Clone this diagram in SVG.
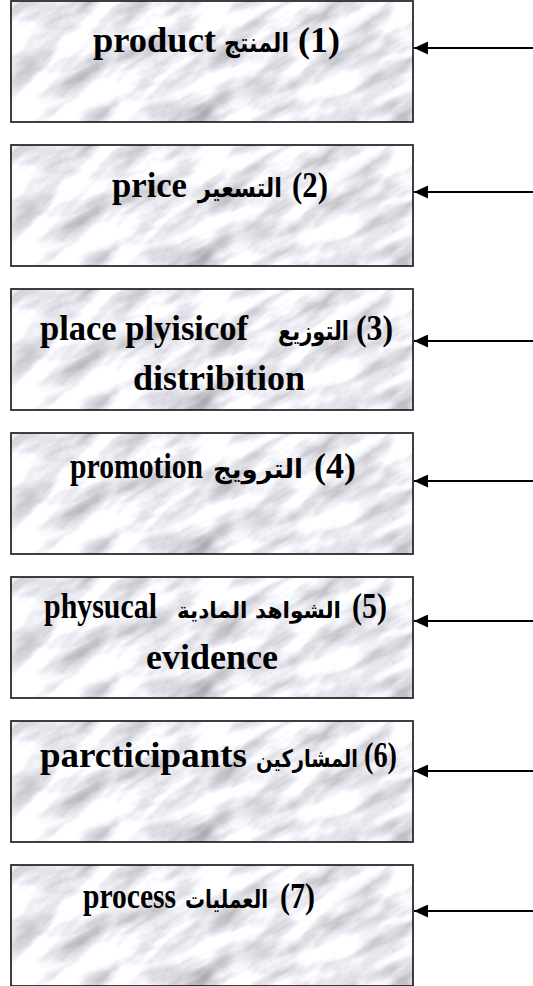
<svg xmlns="http://www.w3.org/2000/svg" width="533" height="986" viewBox="0 0 533 986">
<style>
.frame{fill:none;stroke:#111;stroke-width:1.6}
.en{font-family:"Liberation Serif","Times New Roman",serif;font-weight:bold;font-size:36px;fill:#000}
.ar{font-family:"DejaVu Sans","Noto Sans",sans-serif;font-weight:bold;font-size:26px;fill:#000}
.conn{stroke:#000;stroke-width:2;fill:none}
</style>
<defs>
<filter id="marble" x="-10%" y="-10%" width="120%" height="120%" color-interpolation-filters="sRGB">
<feTurbulence type="fractalNoise" baseFrequency="0.016 0.045" numOctaves="5" seed="11" result="n"/>
<feColorMatrix in="n" type="matrix" values="0.62 0 0 0 0.62  0.62 0 0 0 0.62  0.62 0 0 0 0.645  0 0 0 0 1"/>
</filter>
<clipPath id="bc"><rect x="0" y="0" width="402" height="121"/></clipPath>
<g id="bg">
<g clip-path="url(#bc)">
<rect x="-200" y="-300" width="800" height="700" fill="#eee" filter="url(#marble)" transform="rotate(-30 201 60)"/>
</g>
<rect class="frame" x="0" y="0" width="402" height="121"/>
</g>
<marker id="ah" viewBox="0 0 14 13" refX="14" refY="6.5" markerWidth="14" markerHeight="13" markerUnits="userSpaceOnUse" orient="auto">
<path d="M0,0 L14,6.5 L0,13 z" fill="#000"/>
</marker>
</defs>

<g id="node1">
<use href="#bg" x="11" y="1"/>
<text class="en" x="298" y="52" textLength="42" lengthAdjust="spacingAndGlyphs">(1)</text>
<text class="ar" x="224" y="52" textLength="65" lengthAdjust="spacingAndGlyphs">المنتج</text>
<text class="en" x="93" y="52" textLength="123" lengthAdjust="spacingAndGlyphs">product</text>
</g>
<g id="node2">
<use href="#bg" x="11" y="145"/>
<text class="en" x="292" y="197" textLength="36" lengthAdjust="spacingAndGlyphs">(2)</text>
<text class="ar" x="198" y="197" textLength="84" lengthAdjust="spacingAndGlyphs">التسعير</text>
<text class="en" x="112" y="197" textLength="75" lengthAdjust="spacingAndGlyphs">price</text>
</g>
<g id="node3">
<use href="#bg" x="11" y="289"/>
<text class="en" x="356" y="340" textLength="37" lengthAdjust="spacingAndGlyphs">(3)</text>
<text class="ar" x="278" y="340" textLength="71" lengthAdjust="spacingAndGlyphs">التوزيع</text>
<text class="en" x="40" y="340" textLength="208" lengthAdjust="spacingAndGlyphs">place plyisicof</text>
<text class="en" x="219" y="390" text-anchor="middle">distribition</text>
</g>
<g id="node4">
<use href="#bg" x="11" y="433"/>
<text class="en" x="314" y="478" textLength="42" lengthAdjust="spacingAndGlyphs">(4)</text>
<text class="ar" x="213" y="478" textLength="90" lengthAdjust="spacingAndGlyphs">الترويج</text>
<text class="en" x="70" y="478" textLength="133" lengthAdjust="spacingAndGlyphs">promotion</text>
</g>
<g id="node5">
<use href="#bg" x="11" y="577"/>
<text class="en" x="352" y="618" textLength="35" lengthAdjust="spacingAndGlyphs">(5)</text>
<text class="ar" x="177" y="618" textLength="164" lengthAdjust="spacingAndGlyphs" style="font-size:22px">الشواهد المادية</text>
<text class="en" x="44" y="618" textLength="113" lengthAdjust="spacingAndGlyphs">physucal</text>
<text class="en" x="212" y="669" text-anchor="middle">evidence</text>
</g>
<g id="node6">
<use href="#bg" x="11" y="721"/>
<text class="en" x="364" y="767" textLength="33" lengthAdjust="spacingAndGlyphs">(6)</text>
<text class="ar" x="256" y="767" textLength="102" lengthAdjust="spacingAndGlyphs" style="font-size:24px">المشاركين</text>
<text class="en" x="40" y="767" textLength="207" lengthAdjust="spacingAndGlyphs">parcticipants</text>
</g>
<g id="node7">
<use href="#bg" x="11" y="865"/>
<text class="en" x="280" y="908" textLength="35" lengthAdjust="spacingAndGlyphs">(7)</text>
<text class="ar" x="185" y="908" textLength="83" lengthAdjust="spacingAndGlyphs" style="font-size:25px">العمليات</text>
<text class="en" x="83" y="908" textLength="93" lengthAdjust="spacingAndGlyphs">process</text>
</g>

<g id="connectors">
<line class="conn" x1="533" y1="48" x2="414" y2="48" marker-end="url(#ah)"/>
<line class="conn" x1="533" y1="192" x2="414" y2="192" marker-end="url(#ah)"/>
<line class="conn" x1="533" y1="341" x2="414" y2="341" marker-end="url(#ah)"/>
<line class="conn" x1="533" y1="481" x2="414" y2="481" marker-end="url(#ah)"/>
<line class="conn" x1="533" y1="621" x2="414" y2="621" marker-end="url(#ah)"/>
<line class="conn" x1="533" y1="771" x2="414" y2="771" marker-end="url(#ah)"/>
<line class="conn" x1="533" y1="911" x2="414" y2="911" marker-end="url(#ah)"/>
</g>
</svg>
